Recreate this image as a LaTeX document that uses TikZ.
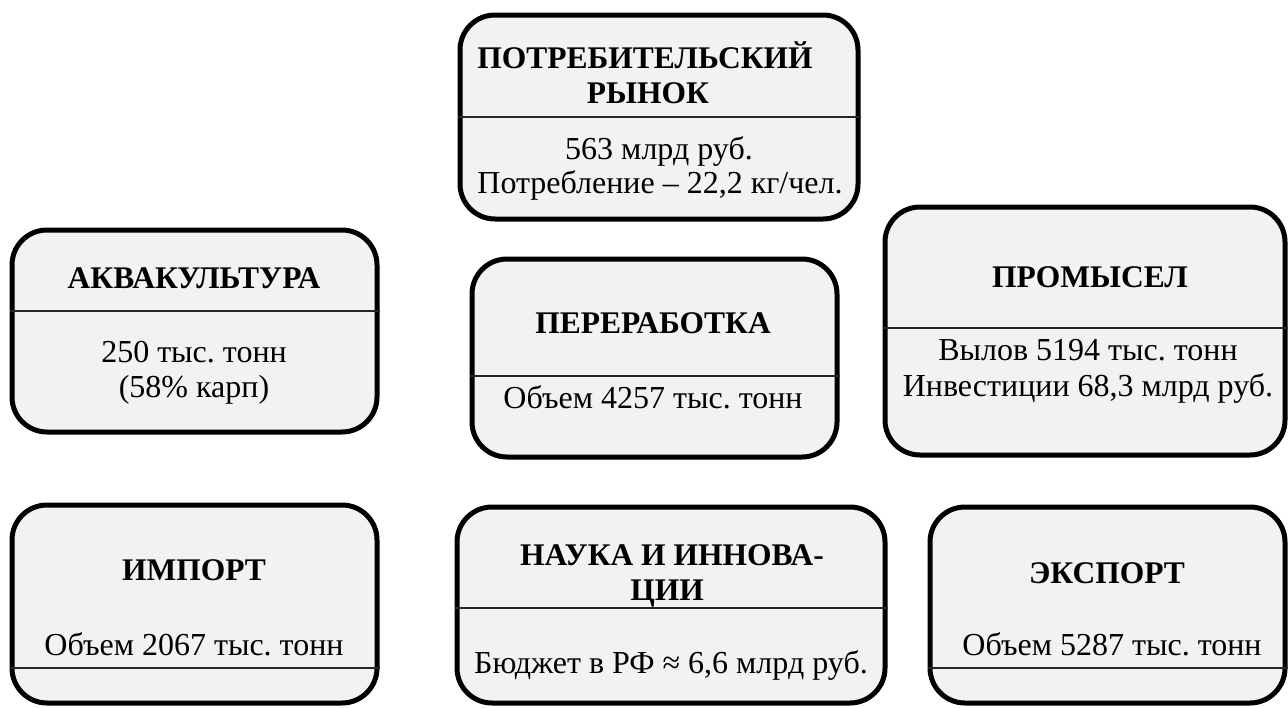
\documentclass[tikz,border=0pt]{standalone}
\usepackage{fontspec}
\setmainfont{Liberation Serif}
\definecolor{boxfill}{HTML}{F2F2F2}
\frenchspacing
\begin{document}
\begin{tikzpicture}[x=1pt,y=-1pt,
  box/.style={draw=black, line width=5pt, fill=boxfill, rounded corners=35pt, inner sep=0pt, rectangle},
  divider/.style={draw=black!85, line width=2pt},
  ttl/.style={anchor=base, inner sep=0pt, font=\fontsize{31.5}{35}\selectfont\bfseries},
  txt/.style={anchor=base, inner sep=0pt, font=\fontsize{32}{35}\selectfont}]
\useasboundingbox (0,0) rectangle (1288,707);
% boxes
\node[box, minimum width=398, minimum height=204] (rynok) at (659,117) {};
\node[box, minimum width=365, minimum height=202] (aqua) at (194.5,331) {};
\node[box, minimum width=365, minimum height=198] (pererab) at (654.5,358) {};
\node[box, minimum width=400, minimum height=248] (promysel) at (1085,331) {};
\node[box, minimum width=365, minimum height=198] (import) at (194.5,604) {};
\node[box, minimum width=428, minimum height=196] (nauka) at (671,605) {};
\node[box, minimum width=355, minimum height=196] (export) at (1107.5,605) {};
% dividers
\draw[divider] (rynok.west |- 0,117) -- (rynok.east |- 0,117);
\draw[divider] (aqua.west |- 0,311) -- (aqua.east |- 0,311);
\draw[divider] (pererab.west |- 0,376) -- (pererab.east |- 0,376);
\draw[divider] (promysel.west |- 0,328) -- (promysel.east |- 0,328);
\draw[divider] (import.west |- 0,668) -- (import.east |- 0,668);
\draw[divider] (nauka.west |- 0,608) -- (nauka.east |- 0,608);
\draw[divider] (export.west |- 0,668) -- (export.east |- 0,668);
% texts
\node[ttl] (rynokT1) at (645,68) {ПОТРЕБИТЕЛЬСКИЙ};
\node[ttl] (rynokT2) at (648,103) {РЫНОК};
\node[txt] (rynokB1) at (659,159) {563 млрд руб.};
\node[txt] (rynokB2) at (660,193) {Потребление – 22,2 кг/чел.};

\node[ttl] (aquaT) at (194,288) {АКВАКУЛЬТУРА};
\node[txt] (aquaB1) at (194,362) {250 тыс. тонн};
\node[txt] (aquaB2) at (194,397) {(58\% карп)};

\node[ttl] (pererabT) at (653,333) {ПЕРЕРАБОТКА};
\node[txt] (pererabB) at (653,408) {Объем 4257 тыс. тонн};

\node[ttl] (promyselT) at (1090,287) {ПРОМЫСЕЛ};
\node[txt] (promyselB1) at (1088,360) {Вылов 5194 тыс. тонн};
\node[txt] (promyselB2) at (1088,396) {Инвестиции 68,3 млрд руб.};

\node[ttl] (importT) at (194,580) {ИМПОРТ};
\node[txt] (importB) at (194,655) {Объем 2067 тыс. тонн};

\node[ttl] (naukaT1) at (672,565) {НАУКА И ИННОВА-};
\node[ttl] (naukaT2) at (667,600) {ЦИИ};
\node[txt] (naukaB) at (671,673) {Бюджет в РФ ≈ 6,6 млрд руб.};

\node[ttl] (exportT) at (1107,583) {ЭКСПОРТ};
\node[txt] (exportB) at (1112,655) {Объем 5287 тыс. тонн};
\end{tikzpicture}
\end{document}
